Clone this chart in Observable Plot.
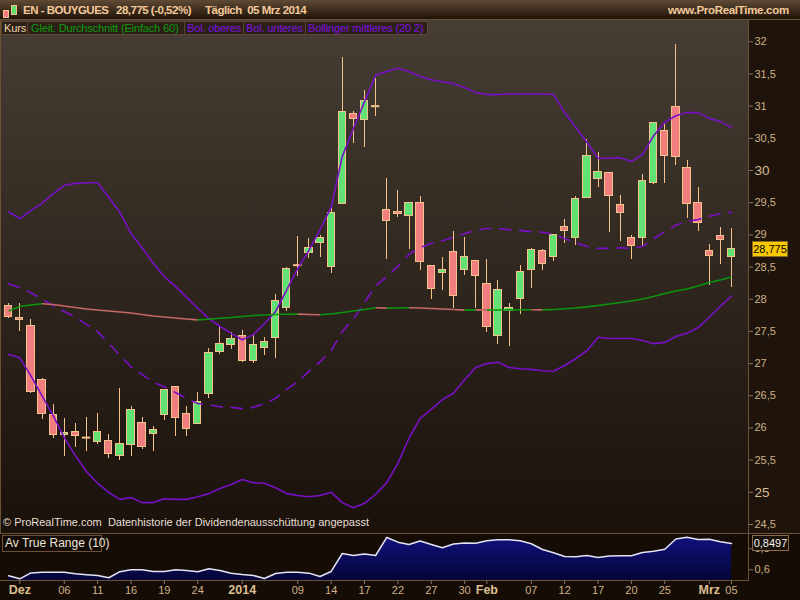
<!DOCTYPE html>
<html><head><meta charset="utf-8">
<script src="https://cdn.jsdelivr.net/npm/d3@7"></script>
<script src="https://cdn.jsdelivr.net/npm/@observablehq/plot@0.6"></script>
<style>
html,body{margin:0;padding:0;}
body{width:800px;height:600px;overflow:hidden;background:#1a1108;font-family:"Liberation Sans",Arial,sans-serif;position:relative;}
#header{position:absolute;left:0;top:0;width:800px;height:20px;background:linear-gradient(#5f4a35,#1f1307);border-bottom:1px solid #6b5138;box-sizing:border-box;}
#header span{position:absolute;top:3px;font-size:11.5px;line-height:14px;color:#f2c99c;font-weight:bold;letter-spacing:-0.5px;white-space:nowrap;}
.ic{position:absolute;border:1px solid #f3c08a;box-sizing:border-box;}
#mainbg{position:absolute;left:0;top:20px;width:748px;height:513px;background:linear-gradient(#463d34,#19110a);border-left:1px solid #6b5138;box-sizing:border-box;}
#axisbg{position:absolute;left:748px;top:20px;width:52px;height:513px;background:#1e140b;border-left:1px solid #6b5138;box-sizing:border-box;}
#main{position:absolute;left:0;top:20px;}
#atrbg{position:absolute;left:0;top:533px;width:800px;height:67px;background:#140c05;border-top:1px solid #6b5138;box-sizing:border-box;}
#atrline{position:absolute;left:0;top:580px;width:748px;height:1px;background:#6b5138;}
#atrvline{position:absolute;left:748px;top:533px;width:1px;height:48px;background:#6b5138;}
#atr{position:absolute;left:0;top:533px;}
.lg{position:absolute;top:21px;height:14px;border:1px solid #5e4630;background:#2b2016;box-sizing:border-box;font-size:11px;line-height:12px;padding-left:2px;white-space:nowrap;letter-spacing:-0.15px;}
.box{position:absolute;font-size:11px;white-space:nowrap;box-sizing:border-box;}
</style>
</head><body>
<div id="header">
  <div class="ic" style="left:3px;top:10px;width:6px;height:8px;background:#f07e7e;"></div>
  <div class="ic" style="left:11px;top:5px;width:6px;height:10px;background:#5ee070;"></div>
  <span style="left:23px">EN - BOUYGUES</span>
  <span style="left:116px">28,775 (-0,52%)</span>
  <span style="left:205px">Täglich&nbsp; 05 Mrz 2014</span>
  <span style="left:668px;letter-spacing:-0.3px;">www.ProRealTime.com</span>
</div>
<div id="mainbg"></div>
<div id="axisbg"></div>
<div id="main"></div>
<div id="atrbg"></div>
<div id="atrline"></div>
<div id="atrvline"></div>
<div id="atr"></div>
<div class="lg" style="left:1px;width:27px;color:#f0d6ae;">Kurs</div>
<div class="lg" style="left:27px;width:158px;color:#0e9a0e;padding-left:3px;">Gleit. Durchschnitt (Einfach 60)</div>
<div class="lg" style="left:184px;width:60px;color:#8010e0;">Bol. oberes</div>
<div class="lg" style="left:243px;width:63px;color:#8010e0;">Bol. unteres</div>
<div class="lg" style="left:305px;width:123px;color:#8010e0;">Bollinger mittleres (20 2)</div>
<div class="box" style="left:3px;top:516px;color:#e8ded2;">© ProRealTime.com&nbsp; Datenhistorie der Dividendenausschüttung angepasst</div>
<div class="box" style="left:2px;top:535px;width:100px;height:17px;border:1px solid #6b5138;background:#140c05;color:#ece4da;font-size:12px;line-height:15px;padding-left:2px;">Av True Range (10)</div>
<div id="lastPrice" class="box" style="left:752px;width:36px;height:16px;background:#f8c800;border:1px solid #8a6a20;color:#000;font-size:11px;line-height:14px;text-align:center;"></div>
<div id="lastAtr" class="box" style="left:752px;width:37px;height:16px;background:#1a1108;border:1px solid #8a6a48;color:#f0f0f0;font-size:11px;line-height:14px;text-align:center;"></div>
<script>
const dates = ["2013-11-29","2013-12-02","2013-12-03","2013-12-04","2013-12-05","2013-12-06","2013-12-09","2013-12-10","2013-12-11","2013-12-12","2013-12-13","2013-12-16","2013-12-17","2013-12-18","2013-12-19","2013-12-20","2013-12-23","2013-12-24","2013-12-27","2013-12-30","2013-12-31","2014-01-02","2014-01-03","2014-01-06","2014-01-07","2014-01-08","2014-01-09","2014-01-10","2014-01-13","2014-01-14","2014-01-15","2014-01-16","2014-01-17","2014-01-20","2014-01-21","2014-01-22","2014-01-23","2014-01-24","2014-01-27","2014-01-28","2014-01-29","2014-01-30","2014-01-31","2014-02-03","2014-02-04","2014-02-05","2014-02-06","2014-02-07","2014-02-10","2014-02-11","2014-02-12","2014-02-13","2014-02-14","2014-02-17","2014-02-18","2014-02-19","2014-02-20","2014-02-21","2014-02-24","2014-02-25","2014-02-26","2014-02-27","2014-02-28","2014-03-03","2014-03-04","2014-03-05"];
const open = [27.90,27.71,27.58,26.75,26.20,25.89,25.94,25.85,25.78,25.80,25.57,25.74,26.08,25.91,26.20,26.64,26.22,26.06,26.53,27.18,27.29,27.43,27.04,27.25,27.39,27.87,28.53,28.72,28.87,28.50,29.48,30.88,30.79,31.00,29.39,29.36,29.30,29.50,28.52,28.40,28.74,28.46,28.60,28.24,27.43,27.82,28.01,28.45,28.75,28.65,29.13,28.95,29.58,29.87,29.96,29.47,28.95,28.95,29.80,30.62,30.99,30.04,29.50,28.75,28.98,28.66];
const high = [27.93,27.93,27.69,26.77,26.36,26.15,26.07,26.16,26.23,25.90,26.61,26.34,26.17,26.03,26.60,26.65,26.34,26.55,27.23,27.59,27.49,27.51,27.45,27.41,28.07,28.50,28.97,28.94,28.99,29.41,31.76,30.92,31.24,31.43,29.88,29.69,29.50,29.60,28.52,28.65,29.05,28.96,28.60,28.62,28.29,27.94,28.52,28.79,28.78,29.00,29.24,29.59,30.48,30.28,29.97,29.61,28.99,29.94,30.75,30.75,31.96,30.16,29.74,28.85,29.11,29.10];
const low = [27.70,27.50,26.54,26.13,25.83,25.55,25.69,25.64,25.75,25.53,25.50,25.56,25.67,25.64,26.12,25.87,25.86,26.05,26.45,27.14,27.22,27.01,27.00,27.12,27.08,27.81,28.36,28.64,28.65,28.40,29.47,30.42,30.35,30.84,28.62,29.27,28.78,28.44,28.00,28.14,27.85,28.37,27.85,27.49,27.30,27.27,27.76,28.17,28.44,28.59,28.87,28.84,29.57,29.74,29.04,28.90,28.62,28.82,29.78,29.80,30.08,29.25,29.06,28.21,28.54,28.18];
const close = [27.72,27.68,26.56,26.22,25.89,25.92,25.88,25.85,25.94,25.60,25.75,26.28,25.71,25.97,26.59,26.16,25.99,26.41,27.17,27.31,27.38,27.04,27.29,27.34,27.97,28.47,28.53,28.80,28.95,29.34,30.91,30.80,31.08,31.00,29.22,29.33,29.50,28.58,28.16,28.46,28.05,28.66,28.36,27.57,28.15,27.87,28.43,28.77,28.54,29.00,29.06,29.56,30.23,29.98,29.61,29.34,28.83,29.84,30.74,30.23,30.21,29.48,29.19,28.67,28.925,28.775];
const ma60 = [27.817,27.887,27.910,27.929,27.918,27.895,27.872,27.848,27.833,27.817,27.802,27.786,27.763,27.740,27.724,27.708,27.693,27.680,27.688,27.704,27.716,27.732,27.747,27.755,27.763,27.766,27.769,27.763,27.758,27.771,27.794,27.817,27.840,27.867,27.862,27.865,27.868,27.864,27.856,27.848,27.840,27.831,27.834,27.831,27.833,27.834,27.836,27.837,27.834,27.840,27.853,27.864,27.882,27.903,27.926,27.949,27.972,28.004,28.042,28.089,28.128,28.159,28.206,28.260,28.299,28.345];
const bbUpper = [29.36,29.25,29.38,29.49,29.64,29.77,29.80,29.81,29.81,29.58,29.35,29.02,28.80,28.56,28.35,28.20,28.03,27.86,27.70,27.58,27.47,27.37,27.45,27.62,27.81,28.14,28.48,28.76,29.08,29.43,30.22,30.65,31.07,31.48,31.54,31.59,31.54,31.46,31.41,31.38,31.35,31.29,31.21,31.18,31.18,31.19,31.19,31.19,31.19,31.18,30.90,30.67,30.44,30.19,30.19,30.20,30.14,30.25,30.54,30.75,30.85,30.90,30.90,30.81,30.76,30.67];
const bbMiddle = [28.24,28.18,28.10,28.00,27.90,27.81,27.72,27.61,27.50,27.31,27.13,26.95,26.83,26.71,26.64,26.55,26.46,26.38,26.36,26.33,26.32,26.30,26.32,26.38,26.46,26.60,26.72,26.88,27.03,27.20,27.50,27.69,27.95,28.21,28.35,28.51,28.70,28.80,28.87,28.91,28.96,29.02,29.07,29.10,29.10,29.08,29.07,29.05,29.04,29.01,28.94,28.88,28.82,28.79,28.79,28.80,28.79,28.82,28.94,29.05,29.15,29.21,29.24,29.29,29.33,29.35];
const bbLower = [27.14,27.09,26.81,26.50,26.19,25.85,25.57,25.32,25.14,25.00,24.89,24.92,24.84,24.84,24.90,24.89,24.89,24.93,24.98,25.06,25.12,25.20,25.15,25.14,25.07,24.98,24.95,24.93,24.95,25.00,24.84,24.76,24.83,24.97,25.15,25.45,25.84,26.15,26.29,26.44,26.54,26.75,26.94,27.00,27.02,26.94,26.92,26.91,26.89,26.88,26.97,27.08,27.20,27.41,27.39,27.39,27.39,27.36,27.31,27.33,27.42,27.47,27.56,27.72,27.89,28.05];
const atr10 = [0.543,0.514,0.570,0.577,0.577,0.577,0.562,0.553,0.546,0.524,0.582,0.600,0.600,0.584,0.584,0.600,0.593,0.581,0.610,0.593,0.568,0.555,0.546,0.517,0.565,0.577,0.577,0.568,0.536,0.584,0.755,0.736,0.750,0.736,0.908,0.863,0.841,0.874,0.841,0.810,0.846,0.855,0.853,0.876,0.886,0.886,0.877,0.848,0.793,0.762,0.727,0.724,0.736,0.717,0.731,0.733,0.733,0.765,0.776,0.795,0.893,0.910,0.889,0.890,0.868,0.8497];
const dayTickDates = ["2013-12-06","2013-12-11","2013-12-16","2013-12-19","2013-12-24","2014-01-09","2014-01-14","2014-01-17","2014-01-22","2014-01-27","2014-01-30","2014-02-07","2014-02-12","2014-02-17","2014-02-20","2014-02-25","2014-03-05"];
const dayTickLabels = ["06","11","16","19","24","09","14","17","22","27","30","07","12","17","20","25","05"];
const monthTickDates = ["2013-12-02","2014-01-02","2014-02-03","2014-03-03"];
const monthTickLabels = ["Dez","2014","Feb","Mrz"];
const priceTicks = [24.5,25.5,26,26.5,27,27.5,28,28.5,29,29.5,30.5,31,31.5,32];
const priceTicksMajor = [25,30];
const atrTicks = [0.6,0.8];

const fmt = d => String(d).replace(".", ",");
const UP = "#62e274", DOWN = "#f07e7e", EDGE = "#f5c28c", PURPLE = "#7a10c6";
const MA_UP = "#0c960c", MA_DOWN = "#c86868";
const AXIS_TXT = "#cdb088", AXIS_TICK = "#8d7355";

const candles = dates.map((d, i) => ({i, open: open[i], high: high[i], low: low[i], close: close[i]}));
const bands = dates.map((d, i) => ({i, upper: bbUpper[i], middle: bbMiddle[i], lower: bbLower[i]}));
const maSegs = ma60.slice(1).map((v, k) => ({x1: k, y1: ma60[k], x2: k + 1, y2: v, up: v >= ma60[k]}));
const atrData = dates.map((d, i) => ({i, atr: atr10[i]}));
const dayIdx = dayTickDates.map(d => dates.indexOf(d));
const monIdx = monthTickDates.map(d => dates.indexOf(d));
const dayLab = new Map(dayIdx.map((v, k) => [v, dayTickLabels[k]]));
const monLab = new Map(monIdx.map((v, k) => [v, monthTickLabels[k]]));

const xScale = {domain: [-0.737, dates.length + 0.53], range: [0, 748], axis: null};

const main = Plot.plot({
  width: 800, height: 513,
  marginLeft: 0, marginRight: 52, marginTop: 0, marginBottom: 0,
  style: {background: "transparent", fontFamily: "Liberation Sans, Arial, sans-serif"},
  x: xScale,
  y: {domain: [24.5, 32], range: [504, 21.3], axis: null},
  marks: [
    Plot.ruleX(candles, {x: "i", y1: "low", y2: "high", stroke: EDGE, strokeWidth: 1, shapeRendering: "crispEdges"}),
    Plot.rect(candles.filter(d => d.open !== d.close), {x1: d => d.i - 0.33, x2: d => d.i + 0.33, y1: "open", y2: "close",
      fill: d => d.close >= d.open ? UP : DOWN, stroke: EDGE, strokeWidth: 1, shapeRendering: "crispEdges"}),
    Plot.ruleY(candles.filter(d => d.open === d.close), {y: "close", x1: d => d.i - 0.38, x2: d => d.i + 0.38, stroke: EDGE, strokeWidth: 2}),
    Plot.line(bands, {x: "i", y: "upper", stroke: PURPLE, strokeWidth: 1.6}),
    Plot.line(bands, {x: "i", y: "lower", stroke: PURPLE, strokeWidth: 1.6}),
    Plot.line(bands, {x: "i", y: "middle", stroke: PURPLE, strokeWidth: 1.6, strokeDasharray: "11,9"}),
    Plot.link(maSegs, {x1: "x1", y1: "y1", x2: "x2", y2: "y2", stroke: d => d.up ? MA_UP : MA_DOWN, strokeWidth: 1.6}),
    Plot.axisY({anchor: "right", label: null, ticks: priceTicks, tickFormat: fmt, tickSize: 4, tickPadding: 2, fontSize: 11, fill: AXIS_TXT, stroke: AXIS_TICK}),
    Plot.axisY({anchor: "right", label: null, ticks: priceTicksMajor, tickFormat: fmt, tickSize: 4, tickPadding: 2, fontSize: 13.5, fill: "#d8bc92", stroke: AXIS_TICK})
  ]
});
document.getElementById("main").appendChild(main);

const yMinAtr = 0.498;
const atrPlot = Plot.plot({
  width: 800, height: 67,
  marginLeft: 0, marginRight: 52, marginTop: 1, marginBottom: 20,
  style: {background: "transparent", fontFamily: "Liberation Sans, Arial, sans-serif"},
  x: xScale,
  y: {domain: [yMinAtr, 0.936], range: [47, 1], axis: null},
  marks: [
    Plot.areaY(atrData, {x: "i", y1: yMinAtr, y2: "atr", fill: "url(#atrGrad)"}),
    Plot.line(atrData, {x: "i", y: "atr", stroke: "#e4e4f2", strokeWidth: 1.5}),
    Plot.axisY({anchor: "right", label: null, ticks: atrTicks, tickFormat: fmt, tickSize: 4, tickPadding: 2, fontSize: 11, fill: AXIS_TXT, stroke: AXIS_TICK}),
    Plot.axisX({anchor: "bottom", label: null, ticks: dayIdx, tickFormat: i => dayLab.get(i), tickSize: 4, tickPadding: 2, fontSize: 11, fill: AXIS_TXT, stroke: AXIS_TICK}),
    Plot.axisX({anchor: "bottom", label: null, ticks: monIdx, tickFormat: i => monLab.get(i), tickSize: 4, tickPadding: 1, fontSize: 12.5, fontWeight: "bold", fill: "#dcbe90", stroke: AXIS_TICK})
  ]
});
d3.select(atrPlot).insert("defs", ":first-child").html(
  '<linearGradient id="atrGrad" x1="0" y1="0" x2="0" y2="1"><stop offset="0" stop-color="#10107c"/><stop offset="1" stop-color="#050538"/></linearGradient>');
document.getElementById("atr").appendChild(atrPlot);

const lp = document.getElementById("lastPrice");
lp.textContent = fmt(close[close.length - 1]);
lp.style.top = (20 + main.scale("y").apply(close[close.length - 1]) - 8) + "px";
const la = document.getElementById("lastAtr");
la.textContent = fmt(atr10[atr10.length - 1]);
la.style.top = (533 + atrPlot.scale("y").apply(atr10[atr10.length - 1]) - 8) + "px";
</script>
</body></html>
